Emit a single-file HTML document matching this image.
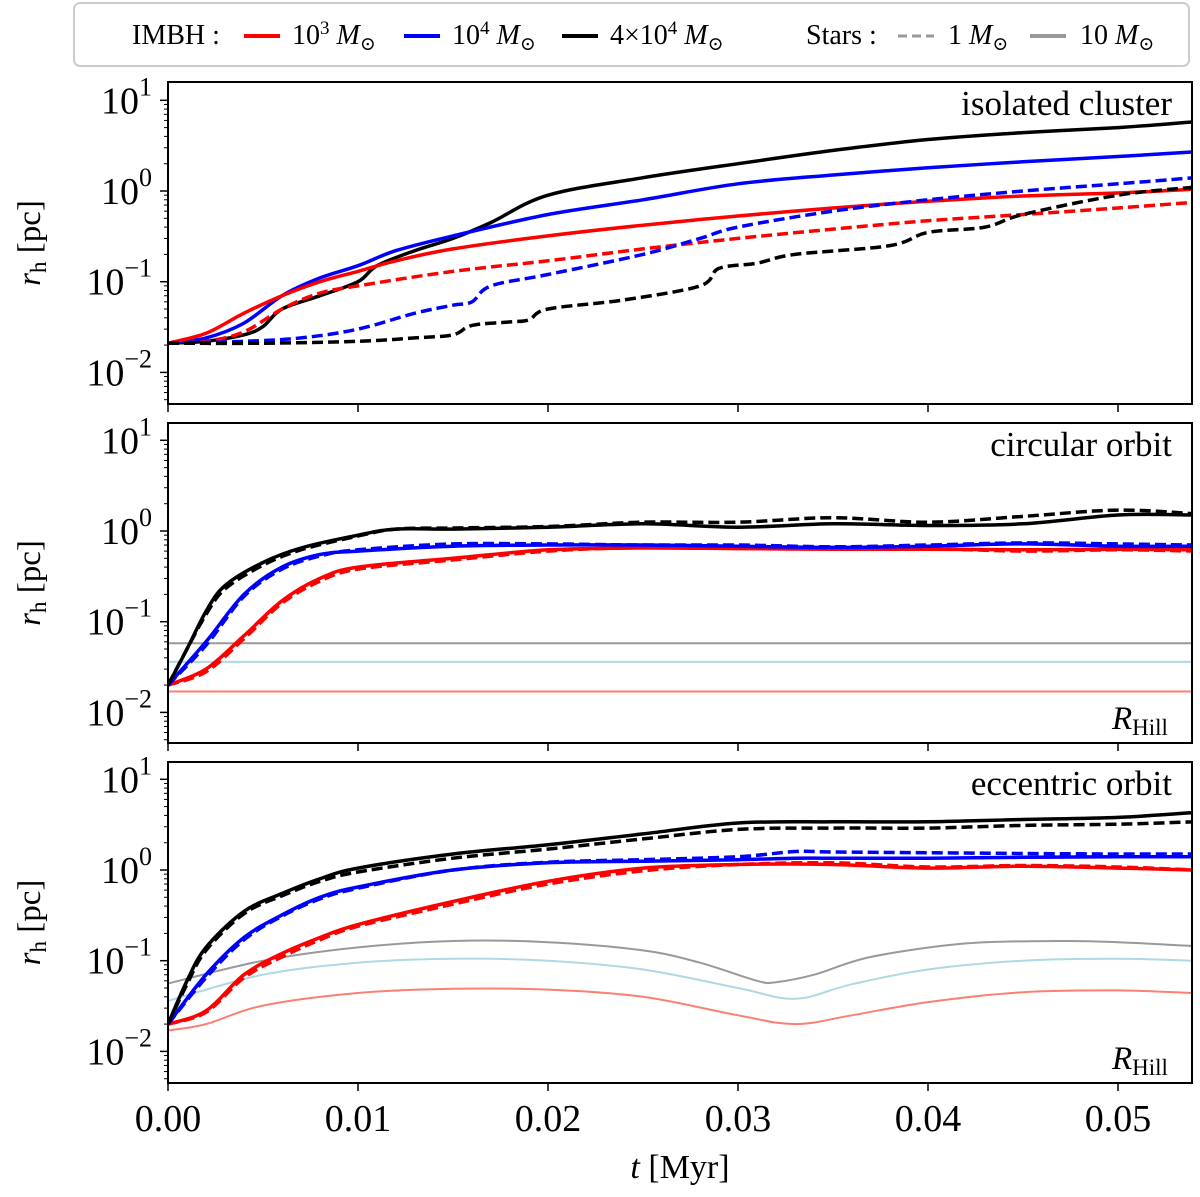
<!DOCTYPE html>
<html><head><meta charset="utf-8"><style>
body{margin:0;background:#fff;}
svg text{font-family:"Liberation Serif","DejaVu Serif",serif;}
</style></head><body>
<svg id="c" width="1200" height="1192" xmlns="http://www.w3.org/2000/svg"></svg>
<script>
// ---- data (t in Myr, rh in pc) ----
const xTicks=[0,0.01,0.02,0.03,0.04,0.05];
const xTickLabels=["0.00","0.01","0.02","0.03","0.04","0.05"];
const yDecades=[-2,-1,0,1];
const panelTitles=["isolated cluster","circular orbit","eccentric orbit"];

// Panel 1: isolated
const iso_bh4e4_t=[0,0.002,0.004,0.005,0.006,0.008,0.01,0.011,0.013,0.015,0.017,0.02,0.025,0.03,0.035,0.04,0.045,0.05,0.054];
const iso_bh4e4_v=[0.021,0.022,0.026,0.032,0.05,0.07,0.1,0.15,0.22,0.3,0.45,0.9,1.4,2.0,2.8,3.7,4.4,5.0,5.8];
const iso_bh1e4_t=[0,0.002,0.004,0.006,0.008,0.01,0.012,0.015,0.02,0.025,0.03,0.035,0.04,0.045,0.05,0.054];
const iso_bh1e4_v=[0.021,0.024,0.035,0.07,0.11,0.15,0.22,0.32,0.55,0.8,1.2,1.5,1.8,2.1,2.4,2.7];
const iso_bh1e3_t=[0,0.002,0.004,0.006,0.008,0.01,0.012,0.015,0.02,0.025,0.03,0.035,0.04,0.045,0.05,0.054];
const iso_bh1e3_v=[0.021,0.027,0.045,0.07,0.1,0.13,0.17,0.23,0.32,0.42,0.53,0.65,0.77,0.88,0.95,1.05];
const iso_bh1e3d_t=[0,0.002,0.004,0.006,0.008,0.01,0.015,0.02,0.025,0.03,0.035,0.04,0.045,0.05,0.054];
const iso_bh1e3d_v=[0.021,0.022,0.028,0.05,0.075,0.09,0.13,0.17,0.23,0.3,0.38,0.47,0.55,0.65,0.75];
const iso_bh1e4d_t=[0,0.004,0.007,0.01,0.013,0.015,0.016,0.017,0.02,0.025,0.028,0.03,0.035,0.04,0.045,0.05,0.054];
const iso_bh1e4d_v=[0.021,0.022,0.024,0.03,0.045,0.055,0.06,0.09,0.12,0.2,0.3,0.4,0.6,0.8,1.0,1.2,1.4];
const iso_bh4e4d_t=[0,0.005,0.01,0.013,0.015,0.016,0.018,0.019,0.02,0.024,0.028,0.029,0.031,0.033,0.038,0.04,0.043,0.045,0.05,0.054];
const iso_bh4e4d_v=[0.021,0.021,0.022,0.024,0.026,0.033,0.036,0.038,0.05,0.063,0.09,0.14,0.16,0.2,0.25,0.35,0.4,0.55,0.9,1.1];

// Panel 2: circular
const cir_t=[0,0.001,0.002,0.003,0.005,0.007,0.01,0.012,0.015,0.02,0.025,0.03,0.035,0.04,0.045,0.05,0.054];
const cir_bh4e4_v=[0.02,0.05,0.13,0.25,0.45,0.65,0.9,1.05,1.05,1.1,1.2,1.1,1.2,1.15,1.2,1.5,1.5];
const cir_bh4e4d_v=[0.02,0.05,0.12,0.23,0.42,0.62,0.88,1.05,1.08,1.12,1.25,1.25,1.4,1.25,1.45,1.7,1.55];
const cir_bh1e4_t=[0,0.002,0.004,0.006,0.008,0.01,0.015,0.02,0.025,0.03,0.035,0.04,0.045,0.05,0.054];
const cir_bh1e4_v=[0.02,0.06,0.2,0.4,0.55,0.6,0.68,0.7,0.7,0.68,0.66,0.68,0.72,0.68,0.68];
const cir_bh1e4d_v=[0.02,0.055,0.19,0.38,0.53,0.62,0.72,0.72,0.7,0.7,0.67,0.7,0.74,0.72,0.7];
const cir_bh1e3_t=[0,0.002,0.004,0.006,0.008,0.01,0.015,0.02,0.025,0.03,0.035,0.04,0.045,0.05,0.054];
const cir_bh1e3_v=[0.02,0.03,0.07,0.17,0.3,0.4,0.5,0.62,0.65,0.64,0.63,0.63,0.62,0.63,0.62];
const cir_bh1e3d_v=[0.02,0.028,0.065,0.16,0.28,0.38,0.48,0.6,0.66,0.66,0.64,0.64,0.6,0.62,0.6];
const cir_hill_t=[0,0.054];
const cir_hill10_v=[0.058,0.058];
const cir_hill1e4_v=[0.036,0.036];
const cir_hill1e3_v=[0.017,0.017];

// Panel 3: eccentric
const ecc_bh4e4_t=[0,0.001,0.002,0.004,0.006,0.008,0.01,0.015,0.02,0.025,0.03,0.035,0.04,0.045,0.05,0.054];
const ecc_bh4e4_v=[0.02,0.06,0.14,0.35,0.55,0.8,1.05,1.5,1.9,2.5,3.3,3.4,3.4,3.6,3.8,4.3];
const ecc_bh4e4d_v=[0.02,0.055,0.13,0.33,0.52,0.75,0.95,1.35,1.7,2.2,2.8,2.9,2.9,3.1,3.2,3.4];
const ecc_bh1e4_t=[0,0.002,0.004,0.006,0.008,0.01,0.015,0.02,0.025,0.03,0.033,0.035,0.04,0.045,0.05,0.054];
const ecc_bh1e4_v=[0.02,0.07,0.18,0.32,0.5,0.65,1.0,1.2,1.25,1.3,1.35,1.35,1.35,1.38,1.4,1.4];
const ecc_bh1e4d_v=[0.02,0.065,0.17,0.31,0.48,0.63,1.0,1.22,1.3,1.4,1.6,1.58,1.55,1.52,1.5,1.5];
const ecc_bh1e3_t=[0,0.002,0.004,0.006,0.008,0.01,0.015,0.02,0.025,0.03,0.035,0.04,0.045,0.05,0.054];
const ecc_bh1e3_v=[0.02,0.028,0.07,0.12,0.18,0.25,0.45,0.75,1.05,1.15,1.15,1.05,1.1,1.05,1.0];
const ecc_bh1e3d_v=[0.02,0.027,0.065,0.11,0.17,0.24,0.42,0.7,0.98,1.15,1.2,1.08,1.12,1.08,1.0];
const ecc_hill10_t=[0,0.005,0.01,0.015,0.02,0.025,0.028,0.031,0.032,0.034,0.037,0.042,0.047,0.05,0.054];
const ecc_hill10_v=[0.056,0.1,0.14,0.165,0.16,0.13,0.095,0.06,0.058,0.07,0.11,0.155,0.165,0.16,0.145];
const ecc_hill1e4_t=[0,0.005,0.01,0.015,0.02,0.025,0.03,0.033,0.036,0.04,0.045,0.05,0.054];
const ecc_hill1e4_v=[0.036,0.07,0.095,0.105,0.1,0.08,0.05,0.038,0.055,0.08,0.1,0.105,0.1];
const ecc_hill1e3_t=[0,0.002,0.005,0.01,0.015,0.02,0.025,0.03,0.033,0.036,0.04,0.045,0.05,0.054];
const ecc_hill1e3_v=[0.017,0.02,0.032,0.044,0.049,0.048,0.04,0.025,0.02,0.025,0.035,0.045,0.047,0.044];

const NS="http://www.w3.org/2000/svg";
const svg=document.getElementById('c');
function mk(tag,attrs,parent){const e=document.createElementNS(NS,tag);for(const k in attrs)e.setAttribute(k,attrs[k]);(parent||svg).appendChild(e);return e;}

const X0=168,X1=1192;
function xs(t){return X0+t*19000;}
const panels=[{top:82,bot:404,d0:191},{top:423,bot:743,d0:531},{top:762,bot:1083,d0:870}];
const DEC=90.7;

// Catmull-Rom smoothing through data points
function smoothPath(P){
  if(P.length<3)return P.map((p,k)=>(k?'L':'M')+p[0].toFixed(1)+','+p[1].toFixed(1)).join('');
  let d='M'+P[0][0].toFixed(1)+','+P[0][1].toFixed(1);
  for(let k=0;k<P.length-1;k++){
    const p0=P[k-1]||P[k],p1=P[k],p2=P[k+1],p3=P[k+2]||P[k+1];
    const c1=[p1[0]+(p2[0]-p0[0])/6,p1[1]+(p2[1]-p0[1])/6];
    const c2=[p2[0]-(p3[0]-p1[0])/6,p2[1]-(p3[1]-p1[1])/6];
    d+='C'+c1[0].toFixed(1)+','+c1[1].toFixed(1)+' '+c2[0].toFixed(1)+','+c2[1].toFixed(1)+' '+p2[0].toFixed(1)+','+p2[1].toFixed(1);
  }
  return d;
}

const RED="#ff0000",BLUE="#0000ff",BLK="#000000";
const series=[
 [[iso_bh4e4_t,iso_bh4e4_v,BLK,0,3.5,'iso-4e4-solid'],[iso_bh1e4_t,iso_bh1e4_v,BLUE,0,3.5,'iso-1e4-solid'],[iso_bh1e3_t,iso_bh1e3_v,RED,0,3.5,'iso-1e3-solid'],
  [iso_bh1e3d_t,iso_bh1e3d_v,RED,1,3.5,'iso-1e3-dashed'],[iso_bh1e4d_t,iso_bh1e4d_v,BLUE,1,3.5,'iso-1e4-dashed'],[iso_bh4e4d_t,iso_bh4e4d_v,BLK,1,3.5,'iso-4e4-dashed']],
 [[cir_hill_t,cir_hill10_v,"#999999",0,2,'cir-hill-10'],[cir_hill_t,cir_hill1e4_v,"#add8e6",0,2,'cir-hill-1e4'],[cir_hill_t,cir_hill1e3_v,"#fa8072",0,2,'cir-hill-1e3'],
  [cir_bh1e3_t,cir_bh1e3_v,RED,0,3.5,'cir-1e3-solid'],[cir_bh1e3_t,cir_bh1e3d_v,RED,1,3.5,'cir-1e3-dashed'],
  [cir_bh1e4_t,cir_bh1e4_v,BLUE,0,3.5,'cir-1e4-solid'],[cir_bh1e4_t,cir_bh1e4d_v,BLUE,1,3.5,'cir-1e4-dashed'],
  [cir_t,cir_bh4e4_v,BLK,0,3.5,'cir-4e4-solid'],[cir_t,cir_bh4e4d_v,BLK,1,3.5,'cir-4e4-dashed']],
 [[ecc_hill10_t,ecc_hill10_v,"#999999",0,2,'ecc-hill-10'],[ecc_hill1e4_t,ecc_hill1e4_v,"#add8e6",0,2,'ecc-hill-1e4'],[ecc_hill1e3_t,ecc_hill1e3_v,"#fa8072",0,2,'ecc-hill-1e3'],
  [ecc_bh1e3_t,ecc_bh1e3_v,RED,0,3.5,'ecc-1e3-solid'],[ecc_bh1e3_t,ecc_bh1e3d_v,RED,1,3.5,'ecc-1e3-dashed'],
  [ecc_bh1e4_t,ecc_bh1e4_v,BLUE,0,3.5,'ecc-1e4-solid'],[ecc_bh1e4_t,ecc_bh1e4d_v,BLUE,1,3.5,'ecc-1e4-dashed'],
  [ecc_bh4e4_t,ecc_bh4e4_v,BLK,0,3.5,'ecc-4e4-solid'],[ecc_bh4e4_t,ecc_bh4e4d_v,BLK,1,3.5,'ecc-4e4-dashed']]
];

panels.forEach((p,i)=>{
  const g=mk('g',{});
  
  
  const ys=v=>p.d0-Math.log10(v)*DEC;
  const cp=mk('clipPath',{id:'cp'+i},g);mk('rect',{x:X0,y:p.top,width:X1-X0,height:p.bot-p.top},cp);
  const lg=mk('g',{'clip-path':'url(#cp'+i+')'},g);
  series[i].forEach(s=>{
    const [ts,vs,col,dash,w,name]=s;
    const pts=ts.map((t,k)=>[xs(t),ys(vs[k])]);
    const path=mk('path',{d:smoothPath(pts),fill:'none',stroke:col,'stroke-width':w,'stroke-dasharray':dash?'11,5':'none','stroke-linejoin':'round'},lg);
    
    
  });
  const fr=mk('rect',{x:X0,y:p.top,width:X1-X0,height:p.bot-p.top,fill:'none',stroke:'#000','stroke-width':2},g);
  
  
  yDecades.forEach(dd=>{
    const y=ys(Math.pow(10,dd));
    mk('line',{x1:X0-8,x2:X0,y1:y,y2:y,stroke:'#000','stroke-width':1.5},g);
    const tx=mk('text',{x:X0-16,y:y+13,'text-anchor':'end','font-size':38},g);
    
    
    tx.textContent='10';
    const sp=mk('tspan',{dy:-18,'font-size':26},tx);sp.textContent=(dd<0?'\u2212':'')+Math.abs(dd);
  });
  for(let dd=-3;dd<=1;dd++)for(let m=2;m<=9;m++){
    const y=ys(m*Math.pow(10,dd));
    if(y>p.top&&y<p.bot)mk('line',{x1:X0-4,x2:X0,y1:y,y2:y,stroke:'#000','stroke-width':1},g);
  }
  xTicks.forEach(t=>{mk('line',{x1:xs(t),x2:xs(t),y1:p.bot,y2:p.bot+8,stroke:'#000','stroke-width':1.5},g);});
  const ti=mk('text',{x:1172,y:p.top+33,'text-anchor':'end','font-size':35},g);
  
  
  ti.textContent=panelTitles[i];
  const yl=mk('text',{transform:'translate(40,'+((p.top+p.bot)/2)+') rotate(-90)','text-anchor':'middle','font-size':33},g);
  
  
  const a=mk('tspan',{'font-style':'italic'},yl);a.textContent='r';
  const b=mk('tspan',{'font-size':23,dy:6},yl);b.textContent='h';
  const c=mk('tspan',{dy:-6},yl);c.textContent=' [pc]';
  if(i>0){
    const rh=mk('text',{x:1112,y:p.bot-14,'font-size':33,'font-style':'italic'},g);
    
    
    rh.textContent='R';
    const s2=mk('tspan',{'font-size':23,'font-style':'normal',dy:6},rh);s2.textContent='Hill';
  }
});
xTicks.forEach((t,k)=>{
  const tx=mk('text',{x:xs(t),y:1131,'text-anchor':'middle','font-size':38});
  
  
  tx.textContent=xTickLabels[k];
});
const xl=mk('text',{x:680,y:1178,'text-anchor':'middle','font-size':34});


const xa=mk('tspan',{'font-style':'italic'},xl);xa.textContent='t';
const xb=mk('tspan',{},xl);xb.textContent=' [Myr]';

// legend
const lgd=mk('g',{});


mk('rect',{x:74,y:3,width:1115,height:63,rx:6,fill:'#fff',stroke:'#cccccc','stroke-width':2},lgd);
function ltext(x,html){const t=mk('text',{x:x,y:44,'font-size':28},lgd);t.innerHTML=html;return t;}
function lline(x1,col,dash){const l=mk('line',{x1:x1,x2:x1+36,y1:36,y2:36,stroke:col,'stroke-width':dash?3:4,'stroke-dasharray':dash?'9,5':'none'},lgd);}
ltext(132,'IMBH :');
lline(244,RED,0);ltext(292,'10<tspan dy="-10" font-size="19">3</tspan><tspan dy="10" font-style="italic"> M</tspan><tspan font-size="19" dy="6">\u2299</tspan>');
lline(404,BLUE,0);ltext(452,'10<tspan dy="-10" font-size="19">4</tspan><tspan dy="10" font-style="italic"> M</tspan><tspan font-size="19" dy="6">\u2299</tspan>');
lline(562,BLK,0);ltext(610,'4\u00d710<tspan dy="-10" font-size="19">4</tspan><tspan dy="10" font-style="italic"> M</tspan><tspan font-size="19" dy="6">\u2299</tspan>');
ltext(806,'Stars :');
lline(898,'#999999',1);ltext(948,'1<tspan font-style="italic"> M</tspan><tspan font-size="19" dy="6">\u2299</tspan>');
lline(1030,'#999999',0);ltext(1080,'10<tspan font-style="italic"> M</tspan><tspan font-size="19" dy="6">\u2299</tspan>');
</script>
</body></html>
